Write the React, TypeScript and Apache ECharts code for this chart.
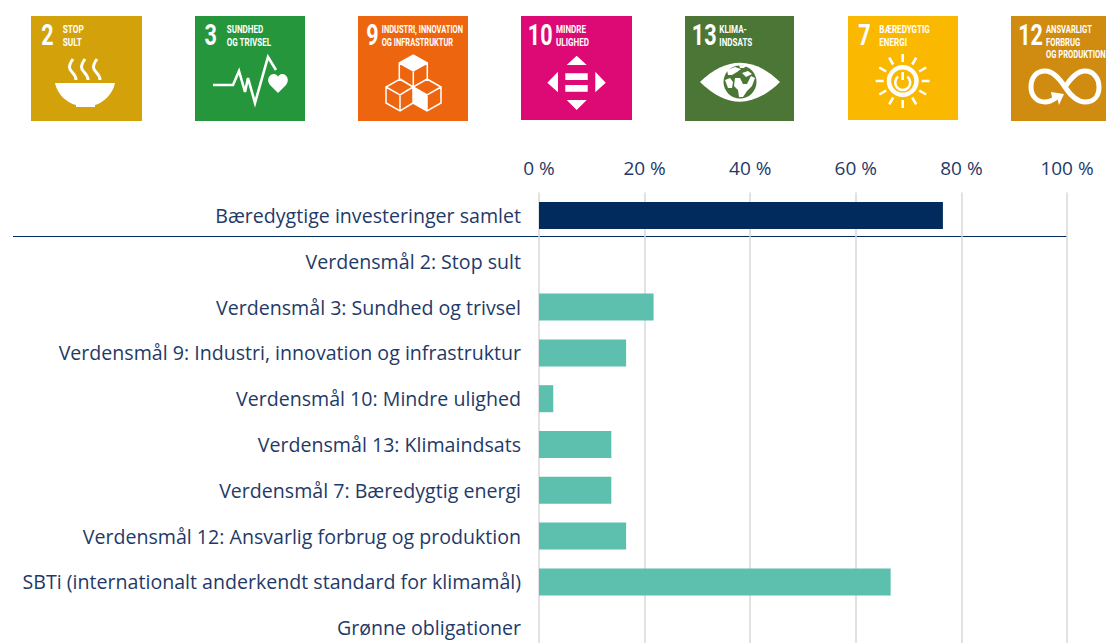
import React, { useEffect, useRef } from "react";
import * as echarts from "echarts";

const categories = [
  "Bæredygtige investeringer samlet",
  "Verdensmål 2: Stop sult",
  "Verdensmål 3: Sundhed og trivsel",
  "Verdensmål 9: Industri, innovation og infrastruktur",
  "Verdensmål 10: Mindre ulighed",
  "Verdensmål 13: Klimaindsats",
  "Verdensmål 7: Bæredygtig energi",
  "Verdensmål 12: Ansvarlig forbrug og produktion",
  "SBTi (internationalt anderkendt standard for klimamål)",
  "Grønne obligationer",
];
const values = [76.5, 0, 21.7, 16.5, 2.7, 13.7, 13.7, 16.5, 66.6, 0];
const xTicks = [0, 20, 40, 60, 80, 100];

const TEXT = "#1F3A68";
const NAVY = "#002B5C";
const TEAL = "#5DBFAE";
const WHITE = "#ffffff";
const COND = "Roboto, sans-serif";
const LABEL_FONT = "'Open Sans', sans-serif";

// SDG icon paths, in each tile's own coordinates
const rays = Array.from({ length: 12 }, (_, i) => {
  const a = (i * Math.PI) / 6;
  const c = 54.7, m = 65;
  return `M${(c + 19 * Math.sin(a)).toFixed(1)} ${(m - 19 * Math.cos(a)).toFixed(1)}L${(c + 27 * Math.sin(a)).toFixed(1)} ${(m - 27 * Math.cos(a)).toFixed(1)}`;
}).join("");

const shapes: Record<string, string> = {
  bowl: "M24 67H84C82 78 72 87 64 89V91H45V89C36 87 26 78 24 67Z",
  steam:
    "M42 43C37 50 38 53 41 56C44 59 45 61 45 64M54 43C49 50 50 53 53 56C56 59 57 61 57 64M66 43C61 50 62 53 65 56C68 59 69 61 69 64",
  pulse: "M18 69L38 69L44 55L50 76L53 62L60 87L73 41L81 54",
  heart: "M83 77L75 69C71 64 74 58 79 58C81 58 83 60 83 61C83 60 85 58 87 58C92 58 95 64 91 69Z",
  cubeFill: "M55.3 39L69.3 47L55.3 55L41.3 47ZM55 71L69 79L69 95L55 87Z",
  cubeLine:
    "M41.3 47L55.3 39L69.3 47L69.3 63L55.3 71L41.3 63ZM41.3 47L55.3 55L69.3 47M55.3 55L55.3 71M42 63L55 71L55 87L42 95L28 87L28 71ZM28 71L42 79L55 71M42 79L42 95M69 63L83 71L83 87L69 95L55 87L55 71ZM55 71L69 79L83 71M69 79L69 95",
  arrows:
    "M55.7 39.7L65.7 49H45.7ZM55.7 94L45.7 84H65.7ZM26.3 66.7L37 55.7V76.3ZM84.7 66.7L74.3 55.7V76.3ZM44.3 57.3H66.7V64H44.3ZM44.3 69H66.7V75.7H44.3Z",
  eye: "M15 66C28 53 42 46.7 55 46.7C68 46.7 82 53 95 66C82 79 68 85.7 55 85.7C42 85.7 28 79 15 66Z",
  earth: "M38.5 66A16.5 16.5 0 1 1 71.5 66A16.5 16.5 0 1 1 38.5 66Z",
  land:
    "M42 54L50 51L56 53L52 56L47 59L43 59ZM54 49L61 50L59 52L55 52ZM40 64L45 62L48 66L47 72L43 72ZM50 62L55 62L58 68L62 68L66 60L70 62L67 70L62 75L58 81L54 81L53 74L49 70ZM57 57L63 55L67 58L61 61Z",
  sunRays: rays,
  sunRing: "M38.7 65A16 16 0 1 1 70.7 65A16 16 0 1 1 38.7 65ZM43.2 65A11.5 11.5 0 1 0 66.2 65A11.5 11.5 0 1 0 43.2 65Z",
  power: "M50.2 60.5A7.5 7.5 0 1 0 59.2 60.5M54.7 56V64",
  infinity:
    "M54 71C48 62 42 55 34 55C25 55 20 62 20 71C20 80 26 86 34 86C38 86 42 84 46 81M54 71C60 80 66 86 74 86C83 86 88 80 88 71C88 62 82 55 74 55C66 55 60 62 54 71",
  infArrow: "M40 76L53 78L48 89L46.5 83L41 81Z",
};
Object.keys(shapes).forEach((k) => {
  echarts.graphic.registerShape("sdg_" + k, echarts.graphic.extendPath(shapes[k], {}));
});

const tiles = [
  { x: 31, w: 111, h: 105, color: "#D3A20A", num: "2", numX: 10.2, numS: 0.72, tx: 31.7, ts: 0.72, label: "STOP\nSULT" },
  { x: 195, w: 110, h: 105, color: "#25963B", num: "3", numX: 9.5, numS: 0.72, tx: 31.7, ts: 0.7, label: "SUNDHED\nOG TRIVSEL" },
  { x: 358, w: 110, h: 105, color: "#EE6510", num: "9", numX: 8.2, numS: 0.72, tx: 23.7, ts: 0.65, label: "INDUSTRI, INNOVATION\nOG INFRASTRUKTUR" },
  { x: 521, w: 111, h: 104, color: "#DD0A75", num: "10", numX: 6.8, numS: 0.72, tx: 35, ts: 0.7, label: "MINDRE\nULIGHED" },
  { x: 685, w: 109, h: 105, color: "#4B7636", num: "13", numX: 6.8, numS: 0.72, tx: 34.3, ts: 0.7, label: "KLIMA-\nINDSATS" },
  { x: 848, w: 110, h: 104, color: "#FBB800", num: "7", numX: 10.2, numS: 0.72, tx: 31.3, ts: 0.7, label: "BÆREDYGTIG\nENERGI" },
  { x: 1011, w: 110, h: 105, color: "#D08C10", num: "12", numX: 7.2, numS: 0.72, tx: 35, ts: 0.66, label: "ANSVARLIGT\nFORBRUG\nOG PRODUKTION" },
];

const fillS = (k: string, fill = WHITE) => ({ type: "sdg_" + k, style: { fill, stroke: null } });
const lineS = (k: string, lw: number, stroke = WHITE) => ({
  type: "sdg_" + k,
  style: { fill: "none", stroke, lineWidth: lw },
});
const glyphs: any[][] = [
  [fillS("bowl"), lineS("steam", 3)],
  [lineS("pulse", 2.6), fillS("heart")],
  [fillS("cubeFill"), lineS("cubeLine", 1.5)],
  [fillS("arrows")],
  [fillS("eye"), fillS("earth", "#4B7636"), fillS("land")],
  [lineS("sunRays", 2.6), fillS("sunRing"), lineS("power", 2.6)],
  [lineS("infinity", 5), fillS("infArrow")],
];

function tileGraphic(t: (typeof tiles)[number], i: number) {
  return {
    type: "group",
    x: t.x,
    y: 16,
    silent: true,
    children: [
      { type: "rect", shape: { x: 0, y: 0, width: t.w, height: t.h }, style: { fill: t.color } },
      {
        type: "text",
        x: t.numX,
        y: 4,
        scaleX: t.numS,
        style: { text: t.num, font: "700 30px " + COND, fill: WHITE },
      },
      {
        type: "text",
        x: t.tx,
        y: 7,
        scaleX: t.ts,
        style: { text: t.label, font: "700 11.5px " + COND, lineHeight: 12.5, fill: WHITE },
      },
      ...glyphs[i],
    ],
  };
}

export default function App() {
  const ref = useRef<HTMLDivElement>(null);
  useEffect(() => {
    document.body.style.margin = "0";
    document.documentElement.style.overflow = "hidden";
    const chart = echarts.init(ref.current!, undefined, { renderer: "svg" });
    chart.setOption({
      animation: false,
      backgroundColor: "#ffffff",
      textStyle: { fontFamily: LABEL_FONT },
      grid: { left: 539, top: 192.6, width: 528, height: 458, containLabel: false },
      xAxis: {
        type: "value",
        position: "top",
        min: 0,
        max: 100,
        interval: 20,
        axisLine: { show: false },
        axisTick: { show: false },
        splitLine: { show: true, lineStyle: { color: "#D9D9D9", width: 1.5 } },
        axisLabel: {
          formatter: (v: number) => (xTicks.includes(v) ? `${v} %` : ""),
          color: TEXT,
          fontSize: 19,
          margin: 15,
          fontFamily: LABEL_FONT,
          hideOverlap: false,
        },
      },
      yAxis: {
        type: "category",
        inverse: true,
        data: categories,
        axisLine: { show: false },
        axisTick: { show: false },
        splitLine: { show: false },
        axisLabel: {
          color: TEXT,
          fontSize: 19.6,
          margin: 18,
          interval: 0,
          fontFamily: LABEL_FONT,
        },
      },
      series: [
        {
          type: "bar",
          barCategoryGap: "41%",
          silent: true,
          data: values.map((v, i) => ({ value: v, itemStyle: { color: i === 0 ? NAVY : TEAL } })),
        },
      ],
      graphic: {
        elements: [
          ...tiles.map(tileGraphic),
          {
            type: "line",
            silent: true,
            shape: { x1: 13, y1: 236.5, x2: 1067, y2: 236.5 },
            style: { stroke: NAVY, lineWidth: 1 },
          },
        ],
      },
    });
    return () => chart.dispose();
  }, []);
  return (
    <div style={{ width: 1106, height: 643, overflow: "hidden" }}>
      <div ref={ref} style={{ width: 1106, height: 655 }} />
    </div>
  );
}
